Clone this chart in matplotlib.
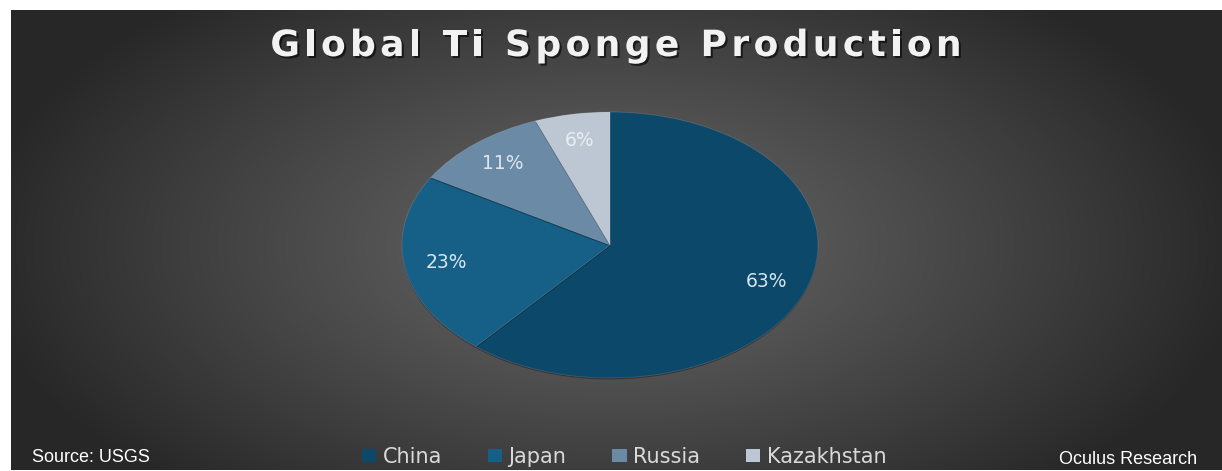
import numpy as np
import matplotlib
matplotlib.use("Agg")
import matplotlib.pyplot as plt
import matplotlib.patheffects as pe
from matplotlib.patches import Patch

# Titanium sponge production share by country (%)
countries = ["China", "Japan", "Russia", "Kazakhstan"]
shares = [63, 23, 11, 6]
colours = ["#0c4869", "#165f87", "#6b8aa6", "#bcc7d3"]
label_colours = ["#d6e4ee", "#d6e4ee", "#dce6ee", "#e9eef3"]
title = "Global Ti Sponge Production"

W, H = 1222, 471
fig = plt.figure(figsize=(W / 100, H / 100), dpi=100, facecolor="white")


def tracked_text(fig, xc, y, s, track, **kw):
    """Write s centred on pixel xc with extra spacing (px) between letters."""
    r = fig.canvas.get_renderer()
    widths = []
    for ch in s:
        t = fig.text(0, 0, ch, **kw)
        widths.append(t.get_window_extent(r).width if ch != " " else None)
        t.remove()
    space = fig.text(0, 0, "a a", **kw)
    sw = space.get_window_extent(r).width
    aa = fig.text(0, 0, "aa", **kw)
    sw -= aa.get_window_extent(r).width
    space.remove()
    aa.remove()
    widths = [sw if w is None else w for w in widths]
    total = sum(widths) + track * (len(s) - 1)
    x = xc - total / 2
    for ch, w in zip(s, widths):
        fig.text(x / W, 1 - y / H, ch, ha="left", va="center", **kw)
        x += w + track


# dark radial background panel
bg = fig.add_axes([11 / W, 1 / H, (W - 11) / W, (H - 11) / H])
yy, xx = np.mgrid[10:470, 11:W]
d = np.sqrt(((xx - 611) / 640.0) ** 2 + ((yy - 245) / 330.0) ** 2)
grey = 0x66 - (0x66 - 0x27) * np.clip(d, 0, 1) ** 1.15
bg.imshow(np.dstack([grey, grey, grey]) / 255.0, aspect="auto", interpolation="bilinear")
bg.axis("off")

# pie, stretched into an ellipse
cx, cy, rx, ry = 610, 245, 208, 133
ax = fig.add_axes([(cx - rx) / W, (H - cy - ry) / H, 2 * rx / W, 2 * ry / H])
wedges, texts = ax.pie(shares, colors=colours, startangle=90, counterclock=False,
                       labels=[f"{s}%" for s in shares], labeldistance=0.8,
                       wedgeprops=dict(linewidth=0.6, edgecolor=(1, 1, 1, 0.15)),
                       textprops=dict(fontsize=13.5, fontfamily="DejaVu Sans", ha="center", va="center"))
for t, c in zip(texts, label_colours):
    t.set_color(c)
ax.set_aspect("auto")
ax.set_xlim(-1, 1)
ax.set_ylim(-1, 1)
for w in wedges:
    w.set_path_effects([pe.SimplePatchShadow(offset=(0, -1), shadow_rgbFace="black", alpha=0.35), pe.Normal()])

# title, letter-spaced
tracked_text(fig, 616, 46, title, 4.3, fontsize=26, fontweight="bold", color="#f2f2f2",
             fontfamily="DejaVu Sans",
             path_effects=[pe.withSimplePatchShadow(offset=(1.5, -1.5), shadow_rgbFace="black", alpha=0.6)])

# legend
handles = [Patch(facecolor=c, edgecolor="none") for c in colours]
leg = fig.legend(handles, countries, loc="center", bbox_to_anchor=(624 / W, 1 - 457 / H),
                 ncol=4, frameon=False, fontsize=15, handlelength=0.7, handleheight=0.55,
                 handletextpad=0.3, columnspacing=2.2)
for t in leg.get_texts():
    t.set_color("#d9d9d9")

fig.text(32 / W, 1 - 458 / H, "Source: USGS", ha="left", va="center", fontsize=13,
         color="white", fontfamily="Liberation Sans")
fig.text(1197 / W, 1 - 460 / H, "Oculus Research", ha="right", va="center", fontsize=13,
         color="white", fontfamily="Liberation Sans")

fig.savefig("out.png", dpi=100, facecolor="white")
